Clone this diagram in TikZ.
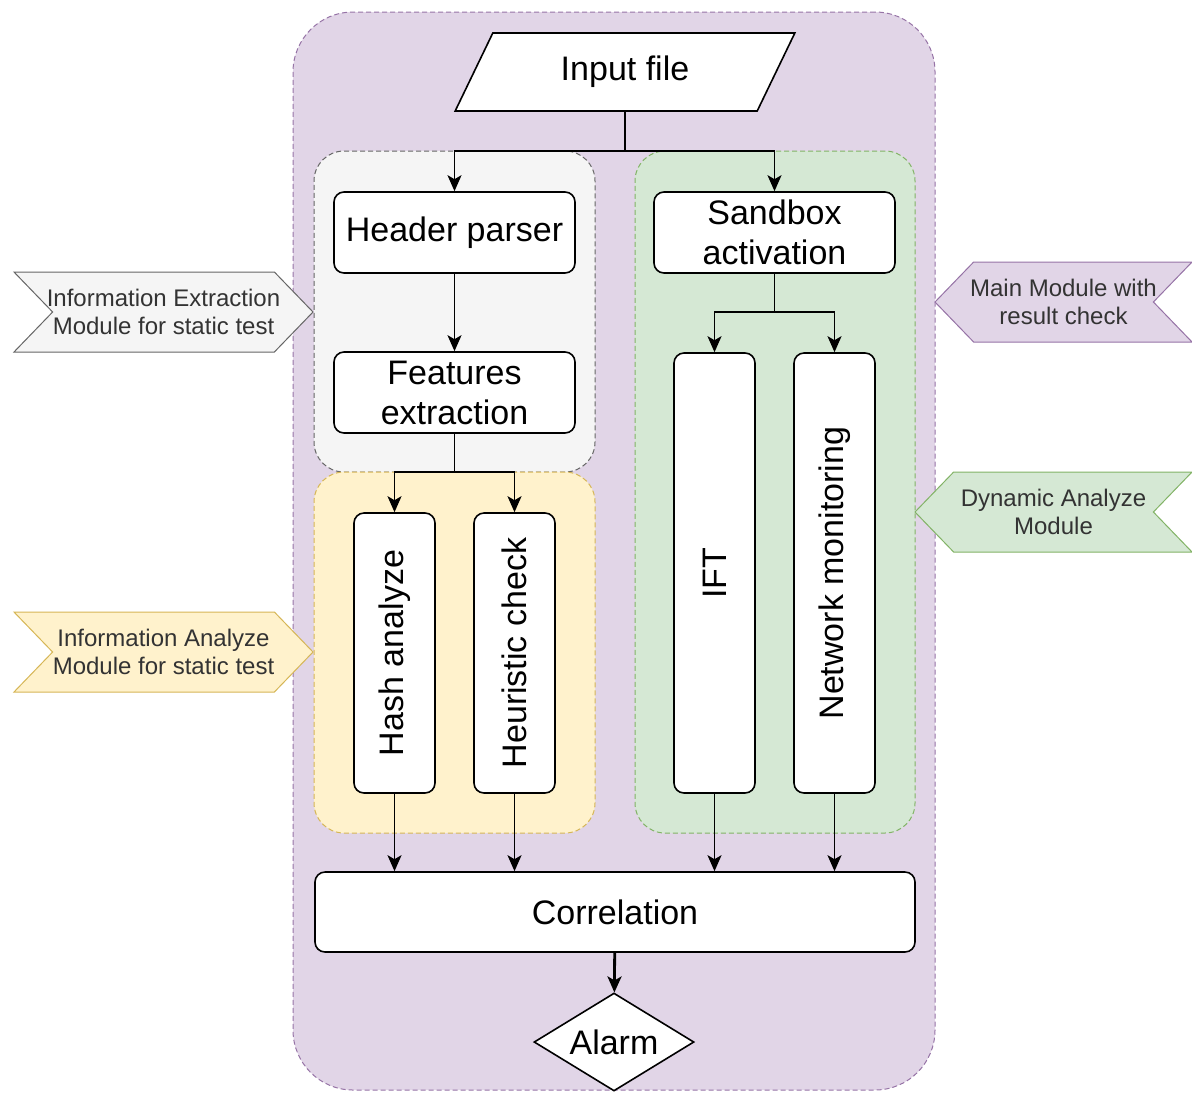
\documentclass[tikz,border=0pt]{standalone}
\usepackage{fontspec}
\setmainfont{Liberation Sans}
\usetikzlibrary{shapes.geometric,shapes.symbols,arrows.meta}
\definecolor{mainfill}{HTML}{E1D5E7}
\definecolor{mainline}{HTML}{9673A6}
\definecolor{grayfill}{HTML}{F5F5F5}
\definecolor{grayline}{HTML}{666666}
\definecolor{yelfill}{HTML}{FFF2CC}
\definecolor{yelline}{HTML}{D6B656}
\definecolor{grnfill}{HTML}{D5E8D4}
\definecolor{grnline}{HTML}{82B366}
\definecolor{tagtext}{HTML}{333333}

\begin{document}
\begin{tikzpicture}[x=0.5pt,y=-0.5pt,
  area/.style={draw, line width=0.5pt, dash pattern=on 2.5pt off 1.5pt, rounded corners=15pt, inner sep=0pt},
  box/.style={draw, fill=white, line width=0.8pt, rounded corners=5pt, inner sep=0pt, align=center, font=\fontsize{17}{20}\selectfont},
  vbox/.style={box, rotate=90, minimum height=40.5pt},
  tag/.style={shape=signal, signal pointer angle=92, line width=0.5pt, inner xsep=-12pt, inner ysep=0pt, minimum height=40pt, align=center, text=tagtext, font=\fontsize{12}{14}\selectfont},
  link/.style={line width=0.9pt, -{Stealth[length=8pt,width=7pt,inset=2pt]}}]
\useasboundingbox (0,0) rectangle (1192,1093);

% module areas
\node[area, fill=mainfill, draw=mainline, rounded corners=30pt, minimum width=321pt, minimum height=539pt] (mainarea) at (614,551) {};
\node[area, fill=grayfill, draw=grayline, minimum width=140.5pt, minimum height=160.5pt] (extarea) at (454.5,311.5) {};
\node[area, fill=yelfill, draw=yelline, minimum width=140.5pt, minimum height=180.5pt] (anaarea) at (454.5,652.5) {};
\node[area, fill=grnfill, draw=grnline, minimum width=140pt, minimum height=341pt] (dynarea) at (775,492) {};

% flow
\node[draw, fill=white, line width=0.8pt, shape=trapezium, trapezium left angle=60, trapezium right angle=120, trapezium stretches=true, minimum width=170pt, minimum height=39pt, inner sep=0pt, font=\fontsize{17}{20}\selectfont] (input) at (625,72) {Input file};
\node[box, minimum width=120.5pt, minimum height=40.5pt] (header) at (454.5,232.5) {Header parser};
\node[box, minimum width=120.5pt, minimum height=40.5pt] (features) at (454.5,392.5) {Features\\extraction};
\node[box, minimum width=120.5pt, minimum height=40.5pt] (sandbox) at (774.5,232.5) {Sandbox\\activation};
\node[vbox, minimum width=140pt] (hash) at (394.5,653) {Hash analyze};
\node[vbox, minimum width=140pt] (heur) at (514.5,653) {Heuristic check};
\node[vbox, minimum width=220pt] (ift) at (714.5,573) {IFT};
\node[vbox, minimum width=220pt] (netmon) at (834.5,573) {Network monitoring};
\node[box, minimum width=300pt, minimum height=40pt] (corr) at (615,912) {Correlation};
\node[draw, fill=white, line width=0.8pt, shape=diamond, aspect=1.6, minimum width=80pt, minimum height=49pt, inner sep=0pt, font=\fontsize{17}{20}\selectfont] (alarm) at (614,1042) {Alarm};

\coordinate (insplit) at (625,151);
\coordinate (fsplit) at (454.5,472);
\coordinate (ssplit) at (774.5,312);

\draw[line width=0.9pt] (input.south -| insplit) -- (insplit);
\draw[link] (insplit) -| (header);
\draw[link] (insplit) -| (sandbox);
\draw[link] (header) -- (features);
\draw[line width=0.9pt] (features) -- (fsplit);
\draw[link] (fsplit) -| (hash);
\draw[link] (fsplit) -| (heur);
\draw[line width=0.9pt] (sandbox) -- (ssplit);
\draw[link] (ssplit) -| (ift);
\draw[link] (ssplit) -| (netmon);
\draw[link] (hash) -- (hash |- corr.north);
\draw[link] (heur) -- (heur |- corr.north);
\draw[link] (ift) -- (ift |- corr.north);
\draw[link] (netmon) -- (netmon |- corr.north);
\draw[link, line width=1.4pt] (corr) -- (alarm);

% side labels
\node[tag, signal from=west, signal to=east, fill=grayfill, draw=grayline, minimum width=149.5pt] (exttag) at (163.5,312) {Information Extraction\\Module for static test};
\node[tag, signal from=west, signal to=east, fill=yelfill, draw=yelline, minimum width=149.5pt] (anatag) at (163.5,652) {Information Analyze\\Module for static test};
\node[tag, signal from=east, signal to=west, fill=mainfill, draw=mainline, minimum width=128.5pt] (maintag) at (1063.5,302) {Main Module with\\result check};
\node[tag, signal from=east, signal to=west, fill=grnfill, draw=grnline, minimum width=138.5pt] (dyntag) at (1053.5,512) {Dynamic Analyze\\Module};

\end{tikzpicture}
\end{document}
